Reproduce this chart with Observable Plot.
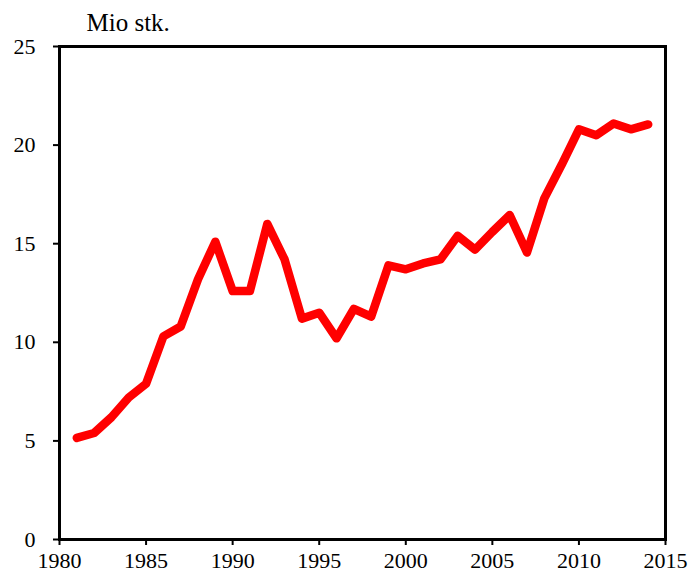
<!DOCTYPE html>
<html>
<head>
<meta charset="utf-8">
<script src="https://cdn.jsdelivr.net/npm/d3@7"></script>
<script src="https://cdn.jsdelivr.net/npm/@observablehq/plot@0.6"></script>
<style>
  html, body { margin: 0; padding: 0; background: #fff; }
  svg { display: block; }
</style>
</head>
<body>
<div id="chart"></div>
<script>
const years = [1981,1982,1983,1984,1985,1986,1987,1988,1989,1990,1991,1992,1993,1994,1995,1996,1997,1998,1999,2000,2001,2002,2003,2004,2005,2006,2007,2008,2009,2010,2011,2012,2013,2014];
const values = [5.15,5.4,6.2,7.2,7.9,10.3,10.8,13.2,15.1,12.6,12.6,16.0,14.2,11.2,11.5,10.2,11.7,11.3,13.9,13.7,14.0,14.2,15.4,14.7,15.6,16.45,14.55,17.3,19.0,20.8,20.5,21.1,20.8,21.05];
const xTicks = [1980,1985,1990,1995,2000,2005,2010,2015];
const yTicks = [0,5,10,15,20,25];
const yLabel = "Mio stk.";

const data = years.map((y, i) => ({year: y, value: values[i]}));

const chart = Plot.plot({
  width: 688,
  height: 573,
  marginLeft: 59,
  marginRight: 23,
  marginTop: 46,
  marginBottom: 34,
  style: {fontFamily: "'Liberation Serif', 'Times New Roman', serif", fontSize: "22px", color: "#000", background: "#fff"},
  x: {domain: [1980, 2015], label: null},
  y: {domain: [0, 25], label: null},
  marks: [
    Plot.axisX({ticks: xTicks, tickFormat: d => String(d), label: null, tickSize: 6, tickPadding: 7, strokeWidth: 2, fontSize: 22}),
    Plot.axisY({ticks: yTicks, label: null, tickSize: 6, tickPadding: 18, strokeWidth: 2, fontSize: 22}),
    Plot.frame({stroke: "#000", strokeWidth: 3}),
    Plot.line(data, {x: "year", y: "value", stroke: "#ff0000", strokeWidth: 8.5, strokeLinejoin: "round", strokeLinecap: "round"}),
    Plot.text([yLabel], {frameAnchor: "top-left", text: d => d, dx: 27, dy: -33, textAnchor: "start", fontSize: 25, fill: "#000"})
  ]
});
document.getElementById("chart").appendChild(chart);
</script>
</body>
</html>
